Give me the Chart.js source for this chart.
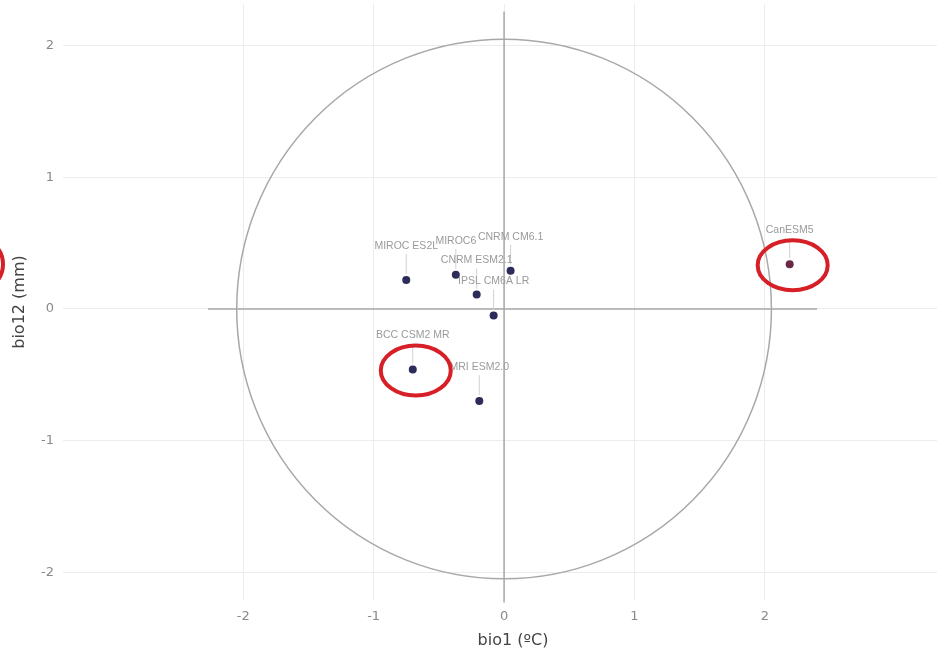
<!DOCTYPE html>
<html>
<head>
    <title>bio1 vs bio12</title>
    <script src="https://cdn.jsdelivr.net/npm/chart.js"></script>
    <style>
        html, body { margin: 0; padding: 0; background: #fff; overflow: hidden; width: 937px; height: 656px; }
        canvas { display: block; }
    </style>
</head>
<body>
    <canvas id="grafica" width="967" height="656"></canvas>

    <script>
        // Modelos y sus valores (bio1 en x, bio12 en y)
        const modelos = ['MIROC ES2L', 'MIROC6', 'CNRM CM6.1', 'CNRM ESM2.1', 'IPSL CM6A LR', 'BCC CSM2 MR', 'MRI ESM2.0', 'CanESM5'];
        const bio1 = [-0.75, -0.37, 0.05, -0.21, -0.08, -0.70, -0.19, 2.19];
        const bio12 = [0.22, 0.26, 0.29, 0.11, -0.05, -0.46, -0.70, 0.34];
        const marcados = ['BCC CSM2 MR', 'CanESM5'];

        const ticksX = [-2, -1, 0, 1, 2];
        const ticksY = [-2, -1, 0, 1, 2];

        // circulo y ejes centrales
        const radioCirculo = 2.05;
        const ejeHorizontalX = [-2.27, 2.40];
        const ejeVerticalY = [2.26, -2.23];

        const puntos = modelos.map((m, i) => ({ x: bio1[i], y: bio12[i] }));
        const colores = modelos.map(m => m === 'CanESM5' ? '#6a2747' : '#2c2b5a');

        const dibujos = {
            id: 'dibujos',
            beforeDatasetsDraw(chart) {
                const { ctx, scales: { x, y } } = chart;
                const cx = x.getPixelForValue(0), cy = y.getPixelForValue(0);
                const rx = x.getPixelForValue(radioCirculo) - cx;
                const ry = cy - y.getPixelForValue(radioCirculo);
                ctx.save();
                ctx.beginPath();
                ctx.ellipse(cx, cy, rx, ry, 0, 0, Math.PI * 2);
                ctx.strokeStyle = '#a8a8a8';
                ctx.lineWidth = 1.5;
                ctx.stroke();
                ctx.restore();
            },
            afterDatasetsDraw(chart) {
                const { ctx, scales: { x, y } } = chart;
                ctx.save();
                // etiquetas con linea guia
                ctx.font = '10.5px "Liberation Sans", Arial, sans-serif';
                ctx.textAlign = 'center';
                ctx.textBaseline = 'middle';
                modelos.forEach((m, i) => {
                    const px = x.getPixelForValue(bio1[i]);
                    const py = y.getPixelForValue(bio12[i]);
                    ctx.strokeStyle = '#d2d2d2';
                    ctx.lineWidth = 1;
                    ctx.beginPath();
                    ctx.moveTo(px, py - 26);
                    ctx.lineTo(px, py - 6);
                    ctx.stroke();
                    ctx.fillStyle = '#9a9a9a';
                    ctx.fillText(m, px, py - 34);
                });
                // circulos rojos a mano
                ctx.strokeStyle = '#d61f26';
                ctx.lineWidth = 4;
                marcados.forEach(m => {
                    const i = modelos.indexOf(m);
                    const px = x.getPixelForValue(bio1[i]);
                    const py = y.getPixelForValue(bio12[i]);
                    ctx.beginPath();
                    ctx.ellipse(px + 3, py + 1, 35, 25, 0, 0, Math.PI * 2);
                    ctx.stroke();
                });
                const iCan = modelos.indexOf('CanESM5');
                ctx.beginPath();
                ctx.ellipse(-27, y.getPixelForValue(bio12[iCan]), 30, 28, 0, 0, Math.PI * 2);
                ctx.stroke();
                ctx.restore();
            }
        };

        const ctx = document.getElementById('grafica').getContext('2d');
        const chart = new Chart(ctx, {
            type: 'scatter',
            data: {
                datasets: [
                    {
                        label: 'modelos',
                        data: puntos,
                        pointRadius: 4,
                        pointBackgroundColor: colores,
                        pointBorderWidth: 0
                    },
                    {
                        label: 'eje x',
                        data: ejeHorizontalX.map(v => ({ x: v, y: 0 })),
                        showLine: true,
                        borderColor: '#a8a8a8',
                        borderWidth: 1.5,
                        pointRadius: 0,
                        clip: false
                    },
                    {
                        label: 'eje y',
                        data: ejeVerticalY.map(v => ({ x: 0, y: v })),
                        showLine: true,
                        borderColor: '#a8a8a8',
                        borderWidth: 1.5,
                        pointRadius: 0,
                        clip: false
                    }
                ]
            },
            options: {
                responsive: false,
                animation: false,
                layout: { padding: 0 },
                plugins: {
                    legend: { display: false },
                    tooltip: { enabled: false }
                },
                scales: {
                    x: {
                        type: 'linear',
                        min: -3.382,
                        max: 3.519,
                        afterBuildTicks: s => { s.ticks = ticksX.map(v => ({ value: v })); },
                        afterFit: s => { s.height = 56; s.paddingLeft = 0; s.paddingRight = 0; },
                        grid: { color: '#ececec', lineWidth: 1, drawTicks: false },
                        border: { display: false },
                        ticks: {
                            padding: 9,
                            color: '#8a8a8a',
                            font: { family: 'DejaVu Sans', size: 13 }
                        },
                        title: {
                            display: true,
                            text: 'bio1 (ºC)',
                            color: '#444',
                            font: { family: 'DejaVu Sans', size: 16 },
                            padding: { top: 0, bottom: 6 }
                        }
                    },
                    y: {
                        type: 'linear',
                        min: -2.211,
                        max: 2.317,
                        afterBuildTicks: s => { s.ticks = ticksY.map(v => ({ value: v })); },
                        afterFit: s => { s.width = 63; s.paddingTop = 0; s.paddingBottom = 0; },
                        grid: { color: '#ececec', lineWidth: 1, drawTicks: false },
                        border: { display: false },
                        ticks: {
                            padding: 9,
                            color: '#8a8a8a',
                            font: { family: 'DejaVu Sans', size: 13 }
                        },
                        title: {
                            display: true,
                            text: 'bio12 (mm)',
                            color: '#444',
                            font: { family: 'DejaVu Sans', size: 16 },
                            padding: { top: 10, bottom: 0 }
                        }
                    }
                }
            },
            plugins: [dibujos]
        });
    </script>
</body>
</html>
